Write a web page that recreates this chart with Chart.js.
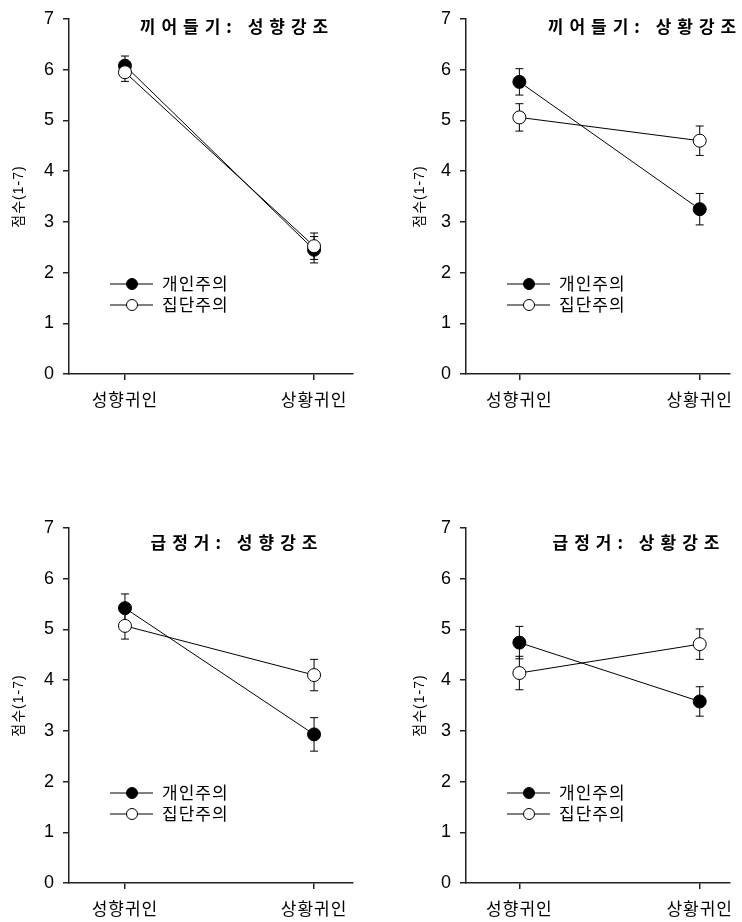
<!DOCTYPE html>
<html>
<head>
<meta charset="utf-8">
<script src="https://cdn.jsdelivr.net/npm/chart.js@4.4.1/dist/chart.umd.min.js"></script>
<style>
	html, body { margin: 0; padding: 0; background: #fff; }
	body { width: 742px; height: 922px; position: relative; overflow: hidden; }
	canvas { position: absolute; }
</style>
</head>
<body>
<canvas id="p0" width="371" height="413" style="left:0;top:0"></canvas>
<canvas id="p1" width="371" height="413" style="left:371px;top:0"></canvas>
<canvas id="p2" width="371" height="413" style="left:0;top:509px"></canvas>
<canvas id="p3" width="371" height="413" style="left:371px;top:509px"></canvas>
<script>
const categories = ['성향귀인', '상황귀인'];
const seriesNames = ['개인주의', '집단주의'];
const panelTitles = ['끼어들기: 성향강조', '끼어들기: 상황강조', '급정거: 성향강조', '급정거: 상황강조'];
const yAxisTitle = '점수(1-7)';
const individualMeans = [[6.08, 2.45], [5.76, 3.25], [5.42, 2.93], [4.74, 3.58]];
const individualErrors = [[0.19, 0.26], [0.26, 0.31], [0.28, 0.33], [0.32, 0.29]];
const collectiveMeans = [[5.95, 2.52], [5.06, 4.60], [5.07, 4.10], [4.14, 4.71]];
const collectiveErrors = [[0.18, 0.26], [0.27, 0.29], [0.26, 0.31], [0.33, 0.30]];

const FONT = "'Liberation Sans', 'Noto Sans CJK KR', sans-serif";
const KFONT = "'Noto Sans CJK KR', 'Liberation Sans', sans-serif";

// layout for each panel (left column / right column, top row / bottom row)
const panelLayout = [
	{ padL: 6, yW: 63, padR: 18, xMax: 2.206, titleDx: 165, titleDy: 8 },
	{ padL: 36, yW: 59, padR: 0, xMax: 2.164, titleDx: 176, titleDy: 8 },
	{ padL: 6, yW: 63, padR: 18, xMax: 2.206, titleDx: 165, titleDy: 15 },
	{ padL: 36, yW: 59, padR: 0, xMax: 2.164, titleDx: 170, titleDy: 15 },
];

// wider letter spacing for every text chart.js draws (old korean fonts are loose)
const spacing = {
	id: 'spacing',
	beforeLayout(chart) {
		chart.ctx.letterSpacing = '1px';
	},
	beforeDraw(chart) {
		chart.ctx.letterSpacing = '1px';
	},
};

const errorBars = {
	id: 'errorBars',
	beforeDatasetsDraw(chart) {
		const { ctx, scales } = chart;
		ctx.save();
		ctx.strokeStyle = '#000';
		ctx.lineWidth = 1;
		chart.data.datasets.forEach((ds) => {
			ds.data.forEach((pt, i) => {
				const x = scales.x.getPixelForValue(pt.x);
				const yT = scales.y.getPixelForValue(pt.y + ds.errors[i]);
				const yB = scales.y.getPixelForValue(pt.y - ds.errors[i]);
				ctx.beginPath();
				ctx.moveTo(x, yT);
				ctx.lineTo(x, yB);
				ctx.moveTo(x - 4, yT);
				ctx.lineTo(x + 4, yT);
				ctx.moveTo(x - 4, yB);
				ctx.lineTo(x + 4, yB);
				ctx.stroke();
			});
		});
		ctx.restore();
	},
};

const panelText = {
	id: 'panelText',
	afterDraw(chart, args, opts) {
		const { ctx, chartArea } = chart;
		ctx.save();
		// title
		ctx.fillStyle = '#000';
		ctx.font = 'bold 17px ' + KFONT;
		ctx.letterSpacing = '6px';
		ctx.textAlign = 'center';
		ctx.textBaseline = 'middle';
		ctx.fillText(opts.title, chartArea.left + opts.titleDx + 3, chartArea.top + opts.titleDy);
		// legend
		ctx.font = '17px ' + KFONT;
		ctx.letterSpacing = '1px';
		ctx.textAlign = 'left';
		const items = [chart.data.datasets[1], chart.data.datasets[0]];
		items.forEach((ds, k) => {
			const y = chartArea.bottom - 90 + k * 21;
			const x0 = chartArea.left + 41;
			ctx.strokeStyle = '#000';
			ctx.lineWidth = 1;
			ctx.beginPath();
			ctx.moveTo(x0, y);
			ctx.lineTo(x0 + 43, y);
			ctx.stroke();
			ctx.beginPath();
			ctx.arc(x0 + 22, y, 5.5, 0, Math.PI * 2);
			ctx.fillStyle = ds.pointBackgroundColor;
			ctx.fill();
			ctx.stroke();
			ctx.fillStyle = '#000';
			ctx.fillText(ds.label, x0 + 52, y);
		});
		ctx.restore();
	},
};

function toPoints(means) {
	return means.map((v, i) => ({ x: i + 1, y: v }));
}

panelTitles.forEach((title, p) => {
	const L = panelLayout[p];
	new Chart(document.getElementById('p' + p), {
		type: 'line',
		data: {
			datasets: [
				{
					label: seriesNames[1],
					data: toPoints(collectiveMeans[p]),
					errors: collectiveErrors[p],
					borderColor: '#000',
					borderWidth: 1,
					pointRadius: 6.5,
					pointBackgroundColor: '#fff',
					pointBorderColor: '#000',
					pointBorderWidth: 1,
					order: 0,
				},
				{
					label: seriesNames[0],
					data: toPoints(individualMeans[p]),
					errors: individualErrors[p],
					borderColor: '#000',
					borderWidth: 1,
					pointRadius: 6.5,
					pointBackgroundColor: '#000',
					pointBorderColor: '#000',
					pointBorderWidth: 1,
					order: 1,
				},
			],
		},
		options: {
			responsive: false,
			animation: false,
			clip: false,
			layout: {
				autoPadding: false,
				padding: { left: L.padL, right: L.padR, top: 19, bottom: 0 },
			},
			plugins: {
				legend: { display: false },
				tooltip: { enabled: false },
				panelText: { title: title, titleDx: L.titleDx, titleDy: L.titleDy },
			},
			scales: {
				x: {
					type: 'linear',
					min: 0.704,
					max: L.xMax,
					afterBuildTicks: (s) => {
						s.ticks = categories.map((c, i) => ({ value: i + 1 }));
					},
					afterFit: (s) => {
						s.height = 39;
					},
					ticks: {
						callback: (v) => categories[v - 1],
						font: { size: 17, family: KFONT },
						color: '#000',
						padding: 9,
						maxRotation: 0,
						autoSkip: false,
					},
					grid: { drawOnChartArea: false, tickLength: 6, color: '#222', lineWidth: 1.5 },
					border: { color: '#222', width: 1.5 },
				},
				y: {
					min: 0,
					max: 7,
					afterFit: (s) => {
						s.width = L.yW;
					},
					ticks: {
						stepSize: 1,
						font: { size: 18, family: FONT },
						color: '#000',
						padding: 8,
					},
					grid: { drawOnChartArea: false, tickLength: 6, color: '#222', lineWidth: 1.5 },
					border: { color: '#222', width: 1.5 },
					title: {
						display: true,
						text: yAxisTitle,
						font: { size: 14, family: FONT },
						color: '#000',
						padding: { top: 5, bottom: 0 },
					},
				},
			},
		},
		plugins: [spacing, errorBars, panelText],
	});
});
</script>
</body>
</html>
